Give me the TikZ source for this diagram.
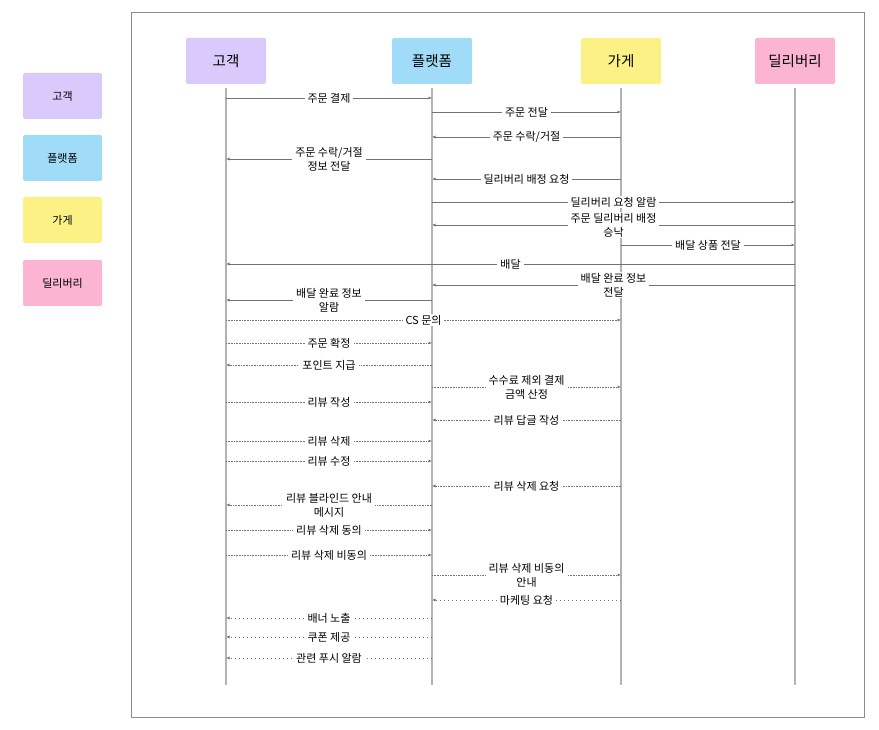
\documentclass[tikz,border=0pt]{standalone}
\usepackage{fontspec}
\setmainfont{Noto Sans CJK KR}
\usetikzlibrary{arrows.meta}
\definecolor{cG}{RGB}{218,201,251}
\definecolor{cP}{RGB}{160,220,248}
\definecolor{cS}{RGB}{251,241,132}
\definecolor{cD}{RGB}{251,181,211}
\begin{document}
\begin{tikzpicture}[x=1pt,y=-1pt,
  part/.style={rectangle, rounded corners=1.5pt, minimum width=80pt, minimum height=46pt, inner sep=0pt, font=\fontsize{14.5}{16}\selectfont},
  leg/.style={rectangle, rounded corners=1.5pt, minimum width=79pt, minimum height=46pt, inner sep=0pt, font=\fontsize{11}{13}\selectfont},
  life/.style={draw=black!30, line width=1.3pt},
  msgline/.style={draw=black!55, line width=0.7pt, -{Latex[length=3.5pt,width=3pt]}},
  dots/.style={msgline, dash pattern=on 0.7pt off 0.9pt},
  sparse/.style={msgline, dash pattern=on 0.8pt off 3.2pt},
  lbl/.style={fill=white, inner xsep=3pt, inner ysep=1pt, align=center, font=\fontsize{11}{14}\selectfont, text=black}]
\useasboundingbox (0,0) rectangle (879,730);
\draw[black!45, line width=0.8pt] (131,12) rectangle (864,717);

% legend
\node[leg, fill=cG] (lgG) at (62.5,96) {고객};
\node[leg, fill=cP] (lgP) at (62.5,158) {플랫폼};
\node[leg, fill=cS] (lgS) at (62.5,220) {가게};
\node[leg, fill=cD] (lgD) at (62.5,283) {딜리버리};

% participants
\node[part, fill=cG] (G) at (226,61) {고객};
\node[part, fill=cP] (P) at (432,61) {플랫폼};
\node[part, fill=cS] (S) at (621,61) {가게};
\node[part, fill=cD] (D) at (795,61) {딜리버리};

% lifelines
\foreach \n in {G,P,S,D}{
  \coordinate (\n top) at (\n.south |- 0,88);
  \coordinate (\n bot) at (\n.south |- 0,685);
  \draw[life] (\n top) -- (\n bot);
}

\newcommand\msg[5]{\draw[#5] (#2top |- 0,#1) -- node[lbl]{#4} (#3top |- 0,#1);}

\msg{98}{G}{P}{주문 결제}{msgline}
\msg{112}{P}{S}{주문 전달}{msgline}
\msg{137}{S}{P}{주문 수락/거절}{msgline}
\msg{159}{P}{G}{주문 수락/거절\\정보 전달}{msgline}
\msg{179}{S}{P}{딜리버리 배정 요청}{msgline}
\msg{202}{P}{D}{딜리버리 요청 알람}{msgline}
\msg{225}{D}{P}{주문 딜리버리 배정\\승낙}{msgline}
\msg{245}{S}{D}{배달 상품 전달}{msgline}
\msg{264}{D}{G}{배달}{msgline}
\msg{285}{D}{P}{배달 완료 정보\\전달}{msgline}
\msg{300}{P}{G}{배달 완료 정보\\알람}{msgline}
\msg{320}{G}{S}{CS 문의}{dots}
\msg{343}{G}{P}{주문 확정}{dots}
\msg{365}{P}{G}{포인트 지급}{dots}
\msg{387}{P}{S}{수수료 제외 결제\\금액 산정}{dots}
\msg{402}{G}{P}{리뷰 작성}{dots}
\msg{420}{S}{P}{리뷰 답글 작성}{dots}
\msg{441}{G}{P}{리뷰 삭제}{dots}
\msg{461}{G}{P}{리뷰 수정}{dots}
\msg{486}{S}{P}{리뷰 삭제 요청}{dots}
\msg{505}{P}{G}{리뷰 블라인드 안내\\메시지}{dots}
\msg{530}{G}{P}{리뷰 삭제 동의}{dots}
\msg{555}{G}{P}{리뷰 삭제 비동의}{dots}
\msg{575}{P}{S}{리뷰 삭제 비동의\\안내}{dots}
\msg{600}{S}{P}{마케팅 요청}{sparse}
\msg{618}{P}{G}{배너 노출}{sparse}
\msg{637}{P}{G}{쿠폰 제공}{sparse}
\msg{658}{P}{G}{관련 푸시 알람}{sparse}
\end{tikzpicture}
\end{document}
